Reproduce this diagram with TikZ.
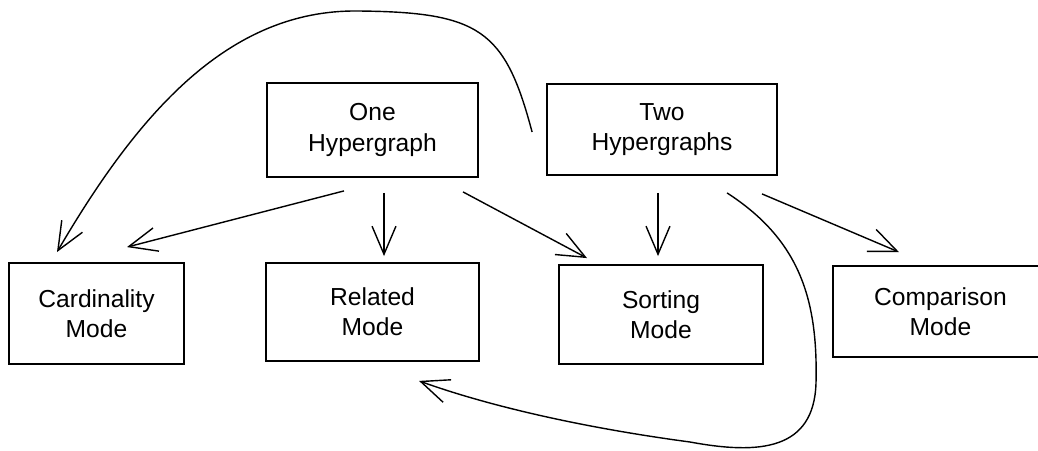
\documentclass[tikz,border=0pt]{standalone}
\usepackage{fontspec}
\setmainfont{Liberation Sans}
\usepackage{tikz}
\usetikzlibrary{arrows.meta}
\usetikzlibrary{calc}
\pgfdeclarelayer{edgelayer}
\pgfdeclarelayer{nodelayer}
\pgfsetlayers{edgelayer,nodelayer,main}
\tikzstyle{mode}=[rectangle,draw=black,line width=1.3pt,fill=white,align=center,inner sep=0pt,font=\fontsize{17.5}{21.5}\selectfont]
\tikzstyle{link}=[line width=1pt,-{Straight Barb[length=20pt,width=17pt]}]

\begin{document}
\begin{tikzpicture}[x=0.025cm,y=-0.025cm]
            \useasboundingbox (0,0) rectangle (1038,451);
            \begin{pgfonlayer}{nodelayer}
            \node [style = mode, minimum width=211*0.025cm, minimum height=94*0.025cm] (one) at (372.5, 130) {One\\Hypergraph};
            \node [style = mode, minimum width=230*0.025cm, minimum height=91*0.025cm] (two) at (662, 129.5) {Two\\Hypergraphs};

            \node [style = mode, minimum width=175*0.025cm, minimum height=101*0.025cm] (card) at (96.5, 313.5) {Cardinality\\Mode};
            \node [style = mode, minimum width=213*0.025cm, minimum height=98*0.025cm] (rel) at (372.5, 312) {Related\\Mode};
            \node [style = mode, minimum width=204*0.025cm, minimum height=99*0.025cm] (sort) at (661, 314.5) {Sorting\\Mode};
            \node [style = mode, minimum width=215*0.025cm, minimum height=91*0.025cm] (comp) at (940.5, 311.5) {Comparison\\Mode};
            \end{pgfonlayer}

        \begin{pgfonlayer}{edgelayer}
            \draw [link] ($(one.south)+(-28.5,13)$) to ($(card.north)+(30.5,-15)$);
            \draw [link] ($(one.south)+(11.5,15)$) to ($(rel.north)+(11.5,-6)$);
            \draw [link] ($(one.south)+(90.5,14)$) to ($(sort.north)+(-74,-6)$);

            \draw [link] ($(two.south)+(-4,17)$) to ($(sort.north)+(-3,-8)$);
            \draw [link] ($(two.south)+(100,18)$) to ($(comp.north)+(-41.5,-13)$);

            \draw [link] ($(two.south)+(65,17)$) .. controls (800,240) and (818,300) .. (816,383)
                .. controls (814,450) and (760,455) .. (690,442)
                .. controls (600,430) and (500,410) .. ($(rel.south)+(46.5,19)$);
            \draw [link] ($(two.west)+(-14,2.5)$) .. controls (505,30) and (480,12) .. (357,11)
                .. controls (230,10) and (140,110) .. ($(card.north)+(-39.5,-10)$);
        \end{pgfonlayer}
\end{tikzpicture}
\end{document}
